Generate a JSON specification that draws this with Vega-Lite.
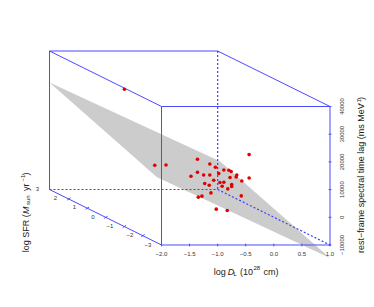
{"$schema":"https://vega.github.io/schema/vega-lite/v6.json","width":374,"height":307,"padding":0,"autosize":"none","background":"white","config":{"view":{"stroke":null},"text":{"font":"Liberation Sans"}},
"datasets":{
"plane":[{"logD":-3.994,"up":48630,"low":48630},{"logD":-2.08,"up":30687,"low":14460},{"logD":-0.96,"up":20220,"low":3867},{"logD":1,"up":-14670,"low":-14670}],
"frame":[{"logD":-3.994,"lag":60035,"logD2":-1,"lag2":60035},{"logD":-1,"lag":60035,"logD2":1,"lag2":40000},{"logD":-3.994,"lag":60035,"logD2":-3.994,"lag2":10036},{"logD":-3.994,"lag":60035,"logD2":-2,"lag2":40000},{"logD":-2,"lag":40000,"logD2":1,"lag2":40000},{"logD":-2,"lag":40000,"logD2":-2,"lag2":-10000},{"logD":-2,"lag":-10000,"logD2":1,"lag2":-10000},{"logD":1,"lag":40000,"logD2":1,"lag2":-10000},{"logD":-3.994,"lag":10036,"logD2":-2,"lag2":-10000}],
"hidden":[{"logD":-3.994,"lag":10036,"logD2":-1,"lag2":10036},{"logD":-1,"lag":60035,"logD2":-1,"lag2":10036},{"logD":-1,"lag":10036,"logD2":1,"lag2":-10000}],
"ticks":[{"logD":-2,"lag":-9500,"logD2":-2,"lag2":-10500},{"logD":-1.5,"lag":-9500,"logD2":-1.5,"lag2":-10500},{"logD":-1,"lag":-9500,"logD2":-1,"lag2":-10500},{"logD":-0.5,"lag":-9500,"logD2":-0.5,"lag2":-10500},{"logD":0,"lag":-9500,"logD2":0,"lag2":-10500},{"logD":0.5,"lag":-9500,"logD2":0.5,"lag2":-10500},{"logD":1,"lag":-9500,"logD2":1,"lag2":-10500},{"logD":0.975,"lag":40000,"logD2":1.025,"lag2":40000},{"logD":0.975,"lag":30000,"logD2":1.025,"lag2":30000},{"logD":0.975,"lag":20000,"logD2":1.025,"lag2":20000},{"logD":0.975,"lag":10000,"logD2":1.025,"lag2":10000},{"logD":0.975,"lag":0,"logD2":1.025,"lag2":0},{"logD":0.975,"lag":-10000,"logD2":1.025,"lag2":-10000},{"logD":-3.68,"lag":6200,"logD2":-3.62,"lag2":7000},{"logD":-3.35,"lag":2900,"logD2":-3.29,"lag2":3700},{"logD":-3.02,"lag":-400,"logD2":-2.96,"lag2":400},{"logD":-2.69,"lag":-3700,"logD2":-2.63,"lag2":-2900},{"logD":-2.36,"lag":-7000,"logD2":-2.3,"lag2":-6200}],
"points":[{"logD":-0.44,"lag":22630},{"logD":-1.36,"lag":20940},{"logD":-1.14,"lag":19250},{"logD":-1.04,"lag":18060},{"logD":-1.36,"lag":16260},{"logD":-1.475,"lag":14820},{"logD":-1.25,"lag":15290},{"logD":-1.14,"lag":15290},{"logD":-0.98,"lag":15790},{"logD":-0.89,"lag":17090},{"logD":-0.8,"lag":16980},{"logD":-0.76,"lag":16510},{"logD":-0.66,"lag":15290},{"logD":-0.67,"lag":14570},{"logD":-0.78,"lag":14350},{"logD":-0.44,"lag":14210},{"logD":-0.57,"lag":13130},{"logD":-1.07,"lag":13380},{"logD":-0.96,"lag":12550},{"logD":-0.89,"lag":12660},{"logD":-1.23,"lag":12200},{"logD":-1.15,"lag":11580},{"logD":-0.75,"lag":11840},{"logD":-0.75,"lag":11120},{"logD":-0.92,"lag":11220},{"logD":-0.82,"lag":10250},{"logD":-1.12,"lag":8810},{"logD":-0.58,"lag":7730},{"logD":-1.28,"lag":7630},{"logD":-1.345,"lag":7270},{"logD":-1.025,"lag":2950},{"logD":-0.83,"lag":2480},{"logD":-2.12,"lag":18780},{"logD":-1.92,"lag":18885},{"logD":-2.66,"lag":46220}]
},
"encoding":{"x":{"field":"logD","type":"quantitative","scale":{"domain":[-4.8754,1.7834],"nice":false,"zero":false},"axis":null},"y":{"field":"lag","type":"quantitative","scale":{"domain":[-32383,78447],"nice":false,"zero":false},"axis":null}},
"layer":[
{"data":{"name":"plane"},"mark":{"type":"area","color":"#cccccc","opacity":1},"encoding":{"y":{"field":"up","type":"quantitative"},"y2":{"field":"low"}}},
{"data":{"name":"frame"},"mark":{"type":"rule","color":"#4a4aff","strokeWidth":1},"encoding":{"x2":{"field":"logD2"},"y2":{"field":"lag2"}}},
{"data":{"name":"hidden"},"mark":{"type":"rule","color":"#3c3cff","strokeWidth":1.2,"strokeDash":[2,2]},"encoding":{"x2":{"field":"logD2"},"y2":{"field":"lag2"}}},
{"data":{"name":"ticks"},"mark":{"type":"rule","color":"#4a4aff","strokeWidth":1},"encoding":{"x2":{"field":"logD2"},"y2":{"field":"lag2"}}},
{"data":{"name":"points"},"mark":{"type":"circle","color":"#e00000","opacity":1,"size":13}},
{"data":{"values":[{"logD":-2,"lag":-13141,"t":"−2.0"},{"logD":-1.5,"lag":-13141,"t":"−1.5"},{"logD":-1,"lag":-13141,"t":"−1.0"},{"logD":-0.5,"lag":-13141,"t":"−0.5"},{"logD":0,"lag":-13141,"t":"0.0"},{"logD":0.5,"lag":-13141,"t":"0.5"},{"logD":1,"lag":-13141,"t":"1.0"},{"logD":-4.21,"lag":10216,"t":"3"},{"logD":-3.887,"lag":6967,"t":"2"},{"logD":-3.549,"lag":3717,"t":"1"},{"logD":-3.22,"lag":108,"t":"0"},{"logD":-2.917,"lag":-3141,"t":"−1"},{"logD":-2.561,"lag":-6390,"t":"−2"},{"logD":-2.24,"lag":-10000,"t":"−3"}]},"mark":{"type":"text","fontSize":6,"color":"#333333","align":"center","baseline":"middle"},"encoding":{"text":{"field":"t"}}},
{"data":{"values":[{"logD":1.219,"lag":40000,"t":"40000"},{"logD":1.219,"lag":30000,"t":"30000"},{"logD":1.219,"lag":20000,"t":"20000"},{"logD":1.219,"lag":10000,"t":"10000"},{"logD":1.219,"lag":0,"t":"0"},{"logD":1.219,"lag":-10000,"t":"−10000"}]},"mark":{"type":"text","fontSize":6,"color":"#333333","angle":270,"align":"center","baseline":"middle"},"encoding":{"text":{"field":"t"}}},
{"data":{"values":[{"logD":-1.071,"lag":-19748,"t":"log"},{"logD":-0.602,"lag":-19748,"t":"(10"},{"logD":-0.184,"lag":-19748,"t":"cm)"}]},"mark":{"type":"text","fontSize":9,"color":"#222222","align":"left","baseline":"middle"},"encoding":{"text":{"field":"t"}}},
{"data":{"values":[{"logD":-0.821,"lag":-19748,"t":"D"}]},"mark":{"type":"text","fontSize":9,"fontStyle":"italic","color":"#222222","align":"left","baseline":"middle"},"encoding":{"text":{"field":"t"}}},
{"data":{"values":[{"logD":-0.718,"lag":-20650,"t":"L"},{"logD":-0.362,"lag":-18484,"t":"28"}]},"mark":{"type":"text","fontSize":6,"color":"#222222","align":"left","baseline":"middle"},"encoding":{"text":{"field":"t"}}},
{"data":{"values":[{"logD":-4.412,"lag":-12636,"t":"log SFR ("},{"logD":-4.412,"lag":9494,"t":"yr"},{"logD":-4.412,"lag":15090,"t":")"},{"logD":1.552,"lag":-12889,"t":"rest−frame spectral time lag (ms MeV"},{"logD":1.552,"lag":42346,"t":")"}]},"mark":{"type":"text","fontSize":9,"color":"#222222","angle":270,"align":"left","baseline":"middle"},"encoding":{"text":{"field":"t"}}},
{"data":{"values":[{"logD":-4.412,"lag":1191,"t":"M"}]},"mark":{"type":"text","fontSize":9,"fontStyle":"italic","color":"#222222","angle":270,"align":"left","baseline":"middle"},"encoding":{"text":{"field":"t"}}},
{"data":{"values":[{"logD":-4.368,"lag":4400,"t":"sun"},{"logD":-4.457,"lag":12923,"t":"−1"},{"logD":1.508,"lag":40180,"t":"−1"}]},"mark":{"type":"text","fontSize":6,"color":"#222222","angle":270,"align":"left","baseline":"middle"},"encoding":{"text":{"field":"t"}}}
]}
